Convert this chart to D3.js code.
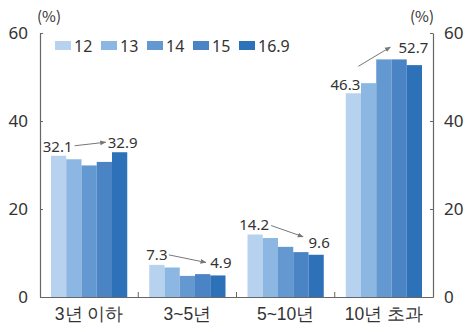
<!DOCTYPE html>
<html>
<head>
<meta charset="utf-8">
<script src="https://cdn.jsdelivr.net/npm/d3@7/dist/d3.min.js"></script>
<style>
  html, body { margin: 0; padding: 0; background: #fff; }
  svg { display: block; font-family: "Noto Sans CJK KR", "Noto Sans", sans-serif; }
</style>
</head>
<body>
<svg id="chart" width="466" height="332"></svg>
<script>
// Share by duration, per survey year
const categories = ["3년 이하", "3~5년", "5~10년", "10년 초과"];
const seriesNames = ["12", "13", "14", "15", "16.9"];
const s12  = [32.1, 7.3, 14.2, 46.3];
const s13  = [31.3, 6.7, 13.4, 48.6];
const s14  = [29.9, 4.8, 11.4, 54.0];
const s15  = [30.7, 5.2, 10.2, 54.0];
const s169 = [32.9, 4.9, 9.6, 52.7];
const seriesValues = [s12, s13, s14, s15, s169];
const colors = ["#b7d2ee", "#8bb7e2", "#6498d1", "#4a84c5", "#2d71b8"];
const yTicks = [0, 20, 40, 60];

const svg = d3.select("#chart");
const W = 466, H = 332;
const x0 = 40, x1 = 433, yTop = 33, yb = 297;

const x = d3.scaleBand().domain(categories).range([x0, x1]);
const groupPad = 11;
const xi = d3.scaleBand().domain(seriesNames).range([groupPad, x.bandwidth() - groupPad]);
const y = d3.scaleLinear().domain([0, 60]).range([yb, yTop]);

const axisColor = "#666";
const textColor = "#333";
const numFont = "'Noto Sans', sans-serif";

// Bars
seriesValues.forEach((vals, si) => {
  svg.append("g").selectAll("rect").data(vals).join("rect")
    .attr("x", (d, i) => x(categories[i]) + xi(seriesNames[si]))
    .attr("width", xi.bandwidth())
    .attr("y", d => y(d))
    .attr("height", d => y(0) - y(d))
    .attr("fill", colors[si]);
});

// Left and right axes
const leftAxis = d3.axisLeft(y).tickValues(yTicks).tickSizeInner(-3).tickSizeOuter(0);
const rightAxis = d3.axisRight(y).tickValues(yTicks).tickSizeInner(-3).tickSizeOuter(0);
const gl = svg.append("g").attr("transform", `translate(${x0},0)`).call(leftAxis);
const gr = svg.append("g").attr("transform", `translate(${x1},0)`).call(rightAxis);
[gl, gr].forEach(g => {
  g.select(".domain").attr("stroke", axisColor).attr("stroke-width", 1.2);
  g.selectAll(".tick line").attr("stroke", axisColor);
  g.selectAll(".tick text").attr("fill", textColor).attr("font-size", 17)
    .attr("font-family", numFont);
});
gl.selectAll(".tick text").attr("x", -12);
gr.selectAll(".tick text").attr("x", 11);

// Bottom axis with category separators
const bottomAxis = d3.axisBottom(x).tickSize(0).tickPadding(11);
const gb = svg.append("g").attr("transform", `translate(0,${yb})`).call(bottomAxis);
gb.select(".domain").attr("stroke", axisColor).attr("stroke-width", 1.2);
gb.selectAll(".tick text").attr("fill", textColor).attr("font-size", 17.5);
svg.append("g").selectAll("line").data(categories.slice(1)).join("line")
  .attr("x1", d => x(d)).attr("x2", d => x(d))
  .attr("y1", yb).attr("y2", yb - 5)
  .attr("stroke", axisColor);

// Unit labels
svg.append("text").attr("x", 49).attr("y", 22).attr("text-anchor", "middle")
  .attr("font-size", 15).attr("fill", textColor).text("(%)");
svg.append("text").attr("x", 422).attr("y", 22).attr("text-anchor", "middle")
  .attr("font-size", 15).attr("fill", textColor).text("(%)");

// Legend
const lg = svg.append("g").attr("transform", "translate(55,41)");
seriesNames.forEach((n, i) => {
  const g = lg.append("g").attr("transform", `translate(${i * 46},0)`);
  g.append("rect").attr("width", 16).attr("height", 9).attr("fill", colors[i]);
  g.append("text").attr("x", 19).attr("y", 10.5).attr("font-size", 16)
    .attr("font-family", numFont)
    .attr("fill", textColor).text(n);
});

// Arrow marker
svg.append("defs").append("marker")
  .attr("id", "arr").attr("viewBox", "0 0 10 10").attr("refX", 9).attr("refY", 5)
  .attr("markerWidth", 6).attr("markerHeight", 6).attr("orient", "auto")
  .append("path").attr("d", "M0,1 L10,5 L0,9 Z").attr("fill", "#777");

// First-to-last annotations for each category: label offsets from the bar top
// and arrow endpoints relative to the labels.
const notes = [
  { cat: 0, d0: [-1, -4], d1: [3, -4], a0: [17, -6], a1: [-17, -6] },
  { cat: 1, d0: [0, -5], d1: [3, -7], a0: [12, -5], a1: [-15, -6] },
  { cat: 2, d0: [-1, -5], d1: [3, -7], a0: [17, -4], a1: [-16, -11] },
  { cat: 3, d0: [-8, -3], d1: [-1, -12], a0: [13, -24], a1: [-23, -6] }
];
const barCenter = (c, s) => x(categories[c]) + xi(seriesNames[s]) + xi.bandwidth() / 2;
notes.forEach(n => {
  const v0 = seriesValues[0][n.cat];
  const v1 = seriesValues[seriesValues.length - 1][n.cat];
  const lx0 = barCenter(n.cat, 0) + n.d0[0], ly0 = y(v0) + n.d0[1];
  const lx1 = barCenter(n.cat, seriesNames.length - 1) + n.d1[0], ly1 = y(v1) + n.d1[1];
  svg.append("text").attr("x", lx0).attr("y", ly0).attr("text-anchor", "middle")
    .attr("font-size", 15).attr("fill", textColor)
    .attr("font-family", numFont).text(v0.toFixed(1));
  svg.append("text").attr("x", lx1).attr("y", ly1).attr("text-anchor", "middle")
    .attr("font-size", 15).attr("fill", textColor)
    .attr("font-family", numFont).text(v1.toFixed(1));
  svg.append("line")
    .attr("x1", lx0 + n.a0[0]).attr("y1", ly0 + n.a0[1])
    .attr("x2", lx1 + n.a1[0]).attr("y2", ly1 + n.a1[1])
    .attr("stroke", "#777").attr("stroke-width", 1).attr("marker-end", "url(#arr)");
});
</script>
</body>
</html>
